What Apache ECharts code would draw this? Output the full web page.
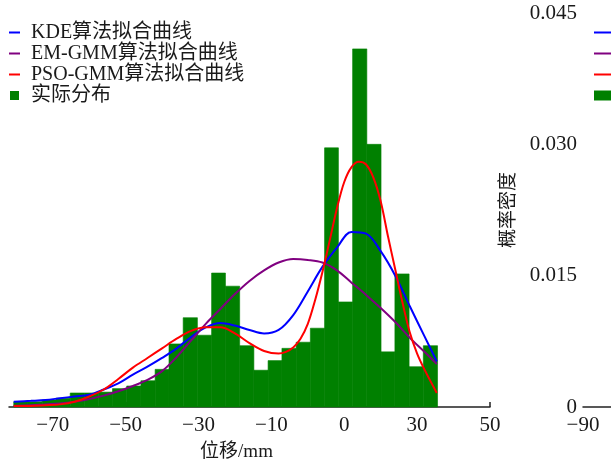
<!DOCTYPE html>
<html>
<head>
<meta charset="utf-8">
<script src="https://cdn.jsdelivr.net/npm/echarts@6/dist/echarts.min.js"></script>
<style>html,body{margin:0;padding:0;background:#fff}#c{width:611px;height:465px}</style>
</head>
<body>
<div id="c"></div>
<script>
// Histogram (实际分布): bin edges and densities
const binEdges = [-80.7, -76.8, -72.9, -69.1, -65.2, -61.3, -57.4, -53.6, -49.7, -45.8, -41.9, -38.1, -34.2, -30.3, -26.4, -22.6, -18.7, -14.8, -10.9, -7.1, -3.2, 0.7, 4.6, 8.4, 12.3, 16.2, 20.1, 23.9, 27.8, 31.7, 35.6];
const binHeights = [0.0006, 0.0006, 0.0008, 0.0010, 0.0016, 0.0016, 0.0017, 0.0021, 0.0024, 0.0030, 0.0043, 0.0072, 0.0102, 0.0082, 0.0153, 0.0138, 0.0070, 0.0042, 0.0053, 0.0067, 0.0074, 0.0090, 0.0296, 0.0120, 0.0409, 0.0300, 0.0063, 0.0152, 0.0046, 0.0070];

// KDE curve
const kdeX = [-80.7, -76, -72, -68, -64, -60, -56, -52, -48, -44, -40, -36, -32, -28, -24, -20, -16, -12, -8, -4, 0, 4, 8, 12, 16, 20, 24, 28, 32, 35.4];
const kdeY = [0.0006, 0.0007, 0.0008, 0.0010, 0.0012, 0.0014, 0.0020, 0.0027, 0.0037, 0.0046, 0.0056, 0.0067, 0.0080, 0.0091, 0.0096, 0.0093, 0.0088, 0.0084, 0.0088, 0.0105, 0.0132, 0.0160, 0.0182, 0.0200, 0.0198, 0.0178, 0.0150, 0.0115, 0.0081, 0.0052];

// EM-GMM curve
const emX = [-80.7, -76, -72, -68, -64, -60, -56, -52, -48, -44, -40, -36, -32, -28, -24, -20, -16, -12, -8, -4, 0, 4, 8, 12, 16, 20, 24, 28, 32, 35.4];
const emY = [0.00015, 0.0002, 0.0003, 0.0004, 0.0006, 0.0009, 0.0013, 0.0018, 0.0024, 0.0031, 0.0041, 0.0057, 0.0076, 0.0095, 0.0112, 0.0129, 0.0144, 0.0156, 0.0165, 0.0169, 0.0168, 0.0165, 0.0156, 0.0142, 0.0128, 0.0113, 0.0097, 0.0079, 0.0063, 0.0049];

// PSO-GMM curve
const psoX = [-80.7, -76, -72, -68, -64, -60, -56, -52, -48, -44, -40, -36, -32, -28, -24, -20, -16, -12, -8, -6, -4, -2, 0, 2, 4, 6, 8, 10, 12, 14, 16, 18, 20, 22, 24, 26, 28, 30, 32, 35.4];
const psoY = [0.0001, 0.00012, 0.0002, 0.0003, 0.0006, 0.0012, 0.0020, 0.0032, 0.0045, 0.0056, 0.0067, 0.0078, 0.0087, 0.0091, 0.0091, 0.0084, 0.0073, 0.0064, 0.0061, 0.0063, 0.0068, 0.0078, 0.0095, 0.0122, 0.0154, 0.0190, 0.0227, 0.0257, 0.0274, 0.0280, 0.0277, 0.0262, 0.0235, 0.0195, 0.0157, 0.0119, 0.0085, 0.0061, 0.0043, 0.0016];

// Axis ticks
const xTickValues = [-70, -50, -30, -10, 10, 30, 50];
const xTickLabels = ['\u221270', '\u221250', '\u221230', '\u221210', '0', '30', '50'];
const legendNames = ['KDE算法拟合曲线', 'EM-GMM算法拟合曲线', 'PSO-GMM算法拟合曲线', '实际分布'];

const FONT = "'Liberation Serif', 'Noto Sans CJK SC', serif";
const TXT = '#1a1a1a';
const zip = (xs, ys) => xs.map((x, i) => [x, ys[i]]);
const histData = binHeights.map((h, i) => [binEdges[i], binEdges[i + 1], h]);

const lineIcon = 'path://M0,0H11V2H0Z';
const boxIcon = 'path://M0,0H9V9H0Z';
const lineIcon2 = 'path://M0,0H20V2H0Z';
const boxIcon2 = 'path://M0,0H20V10H0Z';

const chart = echarts.init(document.getElementById('c'), null, {renderer: 'canvas'});
chart.setOption({
  backgroundColor: '#ffffff',
  animation: false,
  legend: [{
    orient: 'vertical', left: 9, top: 22, padding: 0, itemGap: 0,
    itemWidth: 11, itemHeight: 9, selectedMode: false,
    textStyle: {fontFamily: FONT, fontSize: 20, lineHeight: 21, color: TXT, padding: [0, 0, 0, 6]},
    data: [
      {name: legendNames[0], icon: lineIcon},
      {name: legendNames[1], icon: lineIcon},
      {name: legendNames[2], icon: lineIcon},
      {name: legendNames[3], icon: boxIcon}
    ]
  }, {
    orient: 'vertical', left: 594, top: 22, padding: 0, itemGap: 0,
    itemWidth: 20, itemHeight: 10, selectedMode: false,
    textStyle: {fontFamily: FONT, fontSize: 20, lineHeight: 21, color: TXT},
    data: [
      {name: legendNames[0], icon: lineIcon2},
      {name: legendNames[1], icon: lineIcon2},
      {name: legendNames[2], icon: lineIcon2},
      {name: legendNames[3], icon: boxIcon2}
    ]
  }],
  grid: [
    {left: 9, top: 13, width: 481, height: 394, containLabel: false, outerBoundsMode: 'none'},
    {left: 583, top: 13, width: 481, height: 394, containLabel: false, outerBoundsMode: 'none'}
  ],
  xAxis: [{
    gridIndex: 0, type: 'value', min: -82, max: 50,
    axisLine: {show: true, lineStyle: {color: '#222', width: 1.5}},
    axisTick: {show: true, inside: true, length: 5, customValues: xTickValues, lineStyle: {color: '#222', width: 1.5}},
    axisLabel: {show: true, margin: 8, customValues: xTickValues, fontFamily: FONT, fontSize: 21, color: TXT,
      formatter: v => { const i = xTickValues.indexOf(v); return i >= 0 ? xTickLabels[i] : ''; }},
    splitLine: {show: false},
    name: '位移/mm', nameLocation: 'middle', nameGap: 36,
    nameTextStyle: {fontFamily: FONT, fontSize: 19, color: TXT, padding: [0, 26, 0, 0]}
  }, {
    gridIndex: 1, type: 'value', min: -90, max: 50,
    axisLine: {show: true, lineStyle: {color: '#222', width: 1.5}},
    axisTick: {show: false},
    axisLabel: {show: true, margin: 8, alignMinLabel: 'center', customValues: [-90], fontFamily: FONT, fontSize: 21, color: TXT,
      formatter: v => (v < 0 ? '\u2212' + Math.abs(v) : String(v))},
    splitLine: {show: false}
  }],
  yAxis: [{
    gridIndex: 0, type: 'value', min: 0, max: 0.045,
    show: false, splitLine: {show: false}
  }, {
    gridIndex: 1, type: 'value', min: 0, max: 0.045, interval: 0.015,
    axisLine: {show: true, lineStyle: {color: '#222', width: 1.5}},
    axisTick: {show: true, inside: false, length: 5, lineStyle: {color: '#222', width: 1.5}},
    axisLabel: {margin: 6, fontFamily: FONT, fontSize: 21, color: TXT,
      formatter: v => (v === 0 ? '0' : v.toFixed(3))},
    splitLine: {show: false},
    name: '概率密度', nameLocation: 'middle', nameGap: 60,
    nameTextStyle: {fontFamily: FONT, fontSize: 19, color: TXT}
  }],
  series: [{
    name: legendNames[3], type: 'custom', xAxisIndex: 0, yAxisIndex: 0,
    itemStyle: {color: '#008000'},
    encode: {x: [0, 1], y: 2},
    data: histData,
    z: 1,
    renderItem: (params, api) => {
      const p0 = api.coord([api.value(0), api.value(2)]);
      const p1 = api.coord([api.value(1), 0]);
      return {type: 'rect', shape: {x: p0[0], y: p0[1], width: p1[0] - p0[0], height: p1[1] - p0[1]},
        style: {fill: '#008000', stroke: '#008000', lineWidth: 0.6}};
    }
  }, {
    name: legendNames[0], type: 'line', xAxisIndex: 0, yAxisIndex: 0, data: zip(kdeX, kdeY),
    smooth: 0.35, showSymbol: false, z: 3,
    itemStyle: {color: '#0000ff'}, lineStyle: {color: '#0000ff', width: 2}
  }, {
    name: legendNames[1], type: 'line', xAxisIndex: 0, yAxisIndex: 0, data: zip(emX, emY),
    smooth: 0.35, showSymbol: false, z: 3,
    itemStyle: {color: '#800080'}, lineStyle: {color: '#800080', width: 2}
  }, {
    name: legendNames[2], type: 'line', xAxisIndex: 0, yAxisIndex: 0, data: zip(psoX, psoY),
    smooth: 0.35, showSymbol: false, z: 3,
    itemStyle: {color: '#ff0000'}, lineStyle: {color: '#ff0000', width: 2}
  }]
});
</script>
</body>
</html>
